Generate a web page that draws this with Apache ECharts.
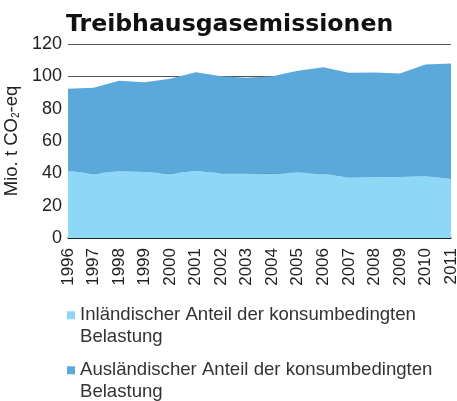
<!DOCTYPE html>
<html><head><meta charset="utf-8">
<script src="https://cdn.jsdelivr.net/npm/echarts@6/dist/echarts.min.js"></script>
<style>html,body{margin:0;padding:0;background:#fff}#c{width:457px;height:401px}</style>
</head><body><div id="c"></div>
<script>
const years = ['1996','1997','1998','1999','2000','2001','2002','2003','2004','2005','2006','2007','2008','2009','2010','2011'];
const inland = [41.4,39.8,41.3,40.8,39.8,41.4,40.0,40.0,39.7,40.5,39.7,37.2,37.6,37.8,38.2,36.5];
const totals = [92.3,92.9,97.2,96.4,98.5,102.5,100.0,99.2,100.0,103.4,105.6,102.2,102.4,101.8,107.3,108.0];
const ausland = totals.map((t,i)=>+(t-inland[i]).toFixed(1));
const names = ['Inländischer Anteil der konsumbedingten Belastung','Ausländischer Anteil der konsumbedingten Belastung'];
const ff = 'Liberation Sans, Arial, sans-serif';
const fmt = n => '\n' + n.replace(' Belastung','\nBelastung');
const legTxt = {fontFamily:ff,fontSize:18.6,color:'#333',lineHeight:21.5};
const chart = echarts.init(document.getElementById('c'));
chart.setOption({
  animation:false,
  title:{text:'Treibhausgasemissionen',left:66,top:13,padding:0,textStyle:{fontFamily:'DejaVu Sans',fontSize:23.6,fontWeight:'bold',color:'#111'}},
  grid:{left:68,right:6,top:44,bottom:163,outerBoundsMode:'none',containLabel:false},
  legend:[
    {left:67,top:283,padding:0,itemWidth:8,itemHeight:8,itemGap:0,icon:'rect',data:[names[0]],formatter:fmt,textStyle:legTxt},
    {left:67,top:338,padding:0,itemWidth:8,itemHeight:8,itemGap:0,icon:'rect',data:[names[1]],formatter:fmt,textStyle:legTxt}
  ],
  xAxis:{type:'category',data:years,boundaryGap:false,
    axisLine:{lineStyle:{color:'#111',width:1.5}},axisTick:{show:false},
    axisLabel:{rotate:90,fontFamily:ff,fontSize:17,color:'#222',margin:10,interval:0}},
  yAxis:{type:'value',min:0,max:120,interval:20,
    name:'Mio. t CO{s|2}-eq',nameLocation:'middle',nameGap:44,
    nameTextStyle:{fontFamily:ff,fontSize:18.5,color:'#222',rich:{s:{fontFamily:ff,fontSize:10,color:'#222',verticalAlign:'bottom',padding:[8,0,0,0]}}},
    axisLine:{show:false},axisTick:{show:false},
    axisLabel:{fontFamily:ff,fontSize:18,color:'#222',margin:6},
    splitLine:{lineStyle:{color:'#555',width:1.2}}},
  series:[
    {name:names[0],type:'line',stack:'s',data:inland,symbol:'none',lineStyle:{width:0},
     itemStyle:{color:'#8DD8F7'},areaStyle:{color:'#8DD8F7',opacity:1}},
    {name:names[1],type:'line',stack:'s',data:ausland,symbol:'none',lineStyle:{width:0},
     itemStyle:{color:'#5BA8DB'},areaStyle:{color:'#5BA8DB',opacity:1}}
  ]
});
</script></body></html>
